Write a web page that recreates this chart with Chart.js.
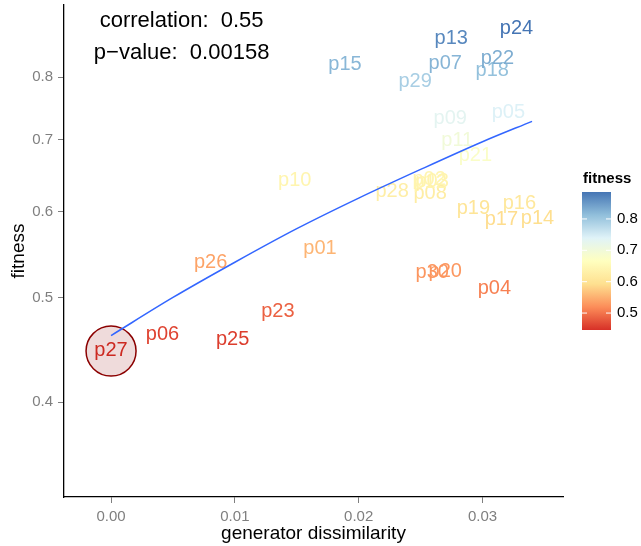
<!DOCTYPE html>
<html>
<head>
<meta charset="utf-8">
<script src="https://cdn.jsdelivr.net/npm/chart.js@4.4.1/dist/chart.umd.min.js"></script>
<style>
  html, body { margin: 0; padding: 0; background: #fff; }
  #chart { display: block; }
</style>
</head>
<body>
<canvas id="chart" width="641" height="546"></canvas>
<script>
const names = ['p01','p02','p03','p04','p05','p06','p07','p08','p09','p10',
               'p11','p12','p13','p14','p15','p16','p17','p18','p19','p20',
               'p21','p22','p23','p24','p25','p26','p27','p28','p29','p30'];
const dissimilarity = [0.01687, 0.02569, 0.02593, 0.03096, 0.03209, 0.00415, 0.02699, 0.02577, 0.02739, 0.01484,
                       0.02796, 0.02577, 0.02747, 0.03444, 0.01889, 0.03298, 0.03152, 0.03079, 0.02926, 0.02699,
                       0.02942, 0.03120, 0.01347, 0.03274, 0.00982, 0.00804, 0.00000, 0.02270, 0.02456, 0.02594];
const fitness = [0.5547, 0.6429, 0.6402, 0.5093, 0.7418, 0.4616, 0.8220, 0.6239, 0.7309, 0.6415,
                 0.6988, 0.6388, 0.8671, 0.5915, 0.8202, 0.6107, 0.5902, 0.8098, 0.6042, 0.5282,
                 0.6767, 0.8308, 0.4849, 0.8859, 0.4567, 0.5384, 0.4460, 0.6267, 0.7910, 0.5270];

// fitted trend line
const fitX = [0.000, 0.005, 0.010, 0.015, 0.020, 0.025, 0.030, 0.034];
const fitY = [0.461, 0.500, 0.539, 0.579, 0.618, 0.657, 0.697, 0.728];

const highlighted = 'p27';
const xTicks = [0.00, 0.01, 0.02, 0.03];
const yTicks = [0.4, 0.5, 0.6, 0.7, 0.8];
const legendTicks = [0.5, 0.6, 0.7, 0.8];
const statLines = ['correlation:  0.55', 'p\u2212value:  0.00158'];
const statX = 0.0057;
const statY = [0.901, 0.8416];

// RdYlBu, low -> high
const palette = ['#D73027', '#FC8D59', '#FEE090', '#FFFFBF', '#E0F3F8', '#91BFDB', '#4575B4'];
const fMin = Math.min(...fitness);
const fMax = Math.max(...fitness);

function hexToRgb(h) {
  return [parseInt(h.slice(1, 3), 16), parseInt(h.slice(3, 5), 16), parseInt(h.slice(5, 7), 16)];
}
function fitnessColor(v) {
  let t = (v - fMin) / (fMax - fMin);
  t = Math.max(0, Math.min(1, t)) * (palette.length - 1);
  const i = Math.min(Math.floor(t), palette.length - 2);
  const f = t - i;
  const a = hexToRgb(palette[i]), b = hexToRgb(palette[i + 1]);
  const c = a.map((x, k) => Math.round(x + (b[k] - x) * f));
  return `rgb(${c[0]},${c[1]},${c[2]})`;
}

const FONT = '"Liberation Sans", Arial, Helvetica, sans-serif';
const tickGray = '#7f7f7f';

const hi = names.indexOf(highlighted);

// ===================== plugins =====================
const textLabels = {
  id: 'textLabels',
  beforeDatasetsDraw(chart) {
    const { ctx } = chart;
    const meta = chart.getDatasetMeta(2);
    ctx.save();
    ctx.font = '20px ' + FONT;
    ctx.textAlign = 'center';
    ctx.textBaseline = 'alphabetic';
    meta.data.forEach((pt, i) => {
      const m = ctx.measureText(names[i]);
      const off = (m.actualBoundingBoxAscent - m.actualBoundingBoxDescent) / 2;
      ctx.fillStyle = fitnessColor(fitness[i]);
      ctx.fillText(names[i], pt.x, pt.y + off);
    });
    ctx.restore();
  },
  afterDraw(chart) {
    const { ctx, scales } = chart;
    ctx.save();
    // stats annotation
    ctx.font = '22px ' + FONT;
    ctx.fillStyle = '#000';
    ctx.textAlign = 'center';
    ctx.textBaseline = 'middle';
    statLines.forEach((s, i) => {
      ctx.fillText(s, scales.x.getPixelForValue(statX), scales.y.getPixelForValue(statY[i]));
    });

    // colour bar legend
    const bx = 582, bw = 29, top = 192, bottom = 330;
    const grad = ctx.createLinearGradient(0, bottom, 0, top);
    palette.forEach((c, i) => grad.addColorStop(i / (palette.length - 1), c));
    ctx.fillStyle = grad;
    ctx.fillRect(bx, top, bw, bottom - top);

    ctx.font = 'bold 15px ' + FONT;
    ctx.fillStyle = '#000';
    ctx.textAlign = 'left';
    ctx.fillText('fitness', 583, 179);

    ctx.font = '15px ' + FONT;
    legendTicks.forEach(v => {
      const y = bottom - (v - fMin) / (fMax - fMin) * (bottom - top);
      ctx.strokeStyle = '#fff';
      ctx.lineWidth = 1;
      ctx.beginPath();
      ctx.moveTo(bx, y); ctx.lineTo(bx + 5, y);
      ctx.moveTo(bx + bw - 5, y); ctx.lineTo(bx + bw, y);
      ctx.stroke();
      ctx.fillStyle = '#000';
      ctx.fillText(v.toFixed(1), 617, y);
    });
    ctx.restore();
  }
};

// ===================== chart =====================
new Chart(document.getElementById('chart'), {
  type: 'scatter',
  data: {
    datasets: [
      {
        type: 'line',
        data: fitX.map((x, i) => ({ x, y: fitY[i] })),
        borderColor: '#3366FF',
        borderWidth: 1.5,
        pointRadius: 0,
        fill: false,
        cubicInterpolationMode: 'monotone',
        order: 1,
      },
      {
        data: [{ x: dissimilarity[hi], y: fitness[hi] }],
        pointRadius: 25,
        backgroundColor: 'rgba(139,0,0,0.14)',
        borderColor: '#8B0000',
        borderWidth: 1.5,
        order: 2,
      },
      {
        data: dissimilarity.map((x, i) => ({ x, y: fitness[i] })),
        pointRadius: 0,
        order: 3,
      },
    ]
  },
  options: {
    responsive: false,
    animation: false,
    devicePixelRatio: 1,
    layout: { autoPadding: false, padding: { top: 5, right: 78, left: 0, bottom: 0 } },
    plugins: { legend: { display: false }, tooltip: { enabled: false } },
    scales: {
      x: {
        type: 'linear',
        min: -0.0038,
        max: 0.0365,
        afterBuildTicks: s => { s.ticks = xTicks.map(v => ({ value: v })); },
        afterFit: s => { s.height = 49; s.paddingLeft = 0; s.paddingRight = 0; },
        ticks: { callback: v => v.toFixed(2), color: tickGray, font: { family: FONT, size: 15 }, padding: 5, maxRotation: 0 },
        grid: { drawOnChartArea: false, drawTicks: true, tickLength: 6, tickColor: tickGray },
        border: { color: '#000', width: 1.3 },
        title: { display: true, text: 'generator dissimilarity', color: '#000', font: { family: FONT, size: 19 }, padding: { top: 0, bottom: 1 } },
      },
      y: {
        type: 'logarithmic',
        min: 0.3267,
        max: 0.933,
        afterBuildTicks: s => { s.ticks = yTicks.map(v => ({ value: v })); },
        afterFit: s => { s.width = 64; s.paddingTop = 0; s.paddingBottom = 0; },
        ticks: { callback: v => Number(v).toFixed(1), color: tickGray, font: { family: FONT, size: 15 }, padding: 5 },
        grid: { drawOnChartArea: false, drawTicks: true, tickLength: 6, tickColor: tickGray },
        border: { color: '#000', width: 1.3 },
        title: { display: true, text: 'fitness', color: '#000', font: { family: FONT, size: 19 }, padding: { top: 7, bottom: 0 } },
      }
    }
  },
  plugins: [textLabels]
});
</script>
</body>
</html>
